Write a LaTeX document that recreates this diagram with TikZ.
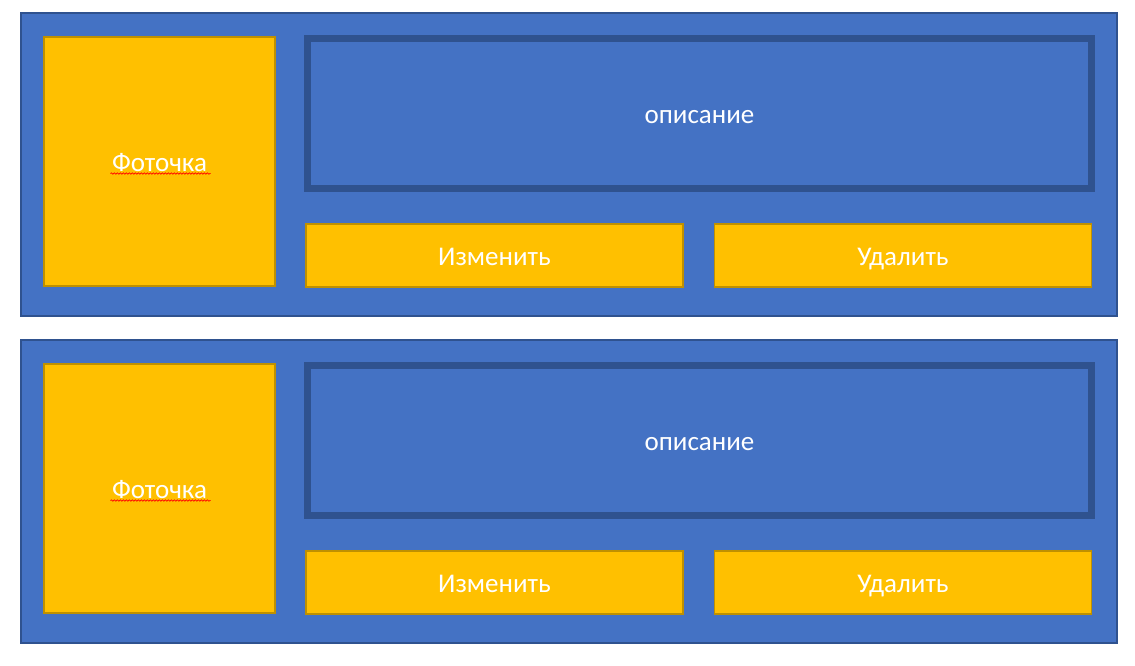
\documentclass[tikz,border=0pt]{standalone}
\usepackage{fontspec}
\setmainfont{Carlito}
\usepackage{tikz}
\usetikzlibrary{positioning, calc, decorations.pathmorphing}
\definecolor{cardblue}{HTML}{4472C4}
\definecolor{darkblue}{HTML}{2F528F}
\definecolor{photoyellow}{HTML}{FFC000}
\definecolor{darkyellow}{HTML}{BF9000}

\begin{document}
\begin{tikzpicture}[
		x=1pt, y=-1pt,
		card/.style={rectangle, draw=darkblue, fill=cardblue, line width=1.5pt, minimum width=1096pt, minimum height=303pt, anchor=north west},
		photobox/.style={rectangle, draw=darkyellow, fill=photoyellow, line width=1.5pt, minimum width=231pt, minimum height=249pt, text=white},
		descbox/.style={rectangle, draw=darkblue, fill=cardblue, line width=7pt, minimum width=784pt, minimum height=150pt, text=white},
		button/.style={rectangle, draw=darkyellow, fill=photoyellow, line width=1.5pt, minimum width=377pt, minimum height=63pt, text=white},
		spell/.style={red, line width=0.7pt, decorate, decoration={snake, amplitude=0.7pt, segment length=3pt}},
		every node/.style={font=\fontsize{27}{32}\selectfont, text height=20pt, text depth=0pt},
	]
		\useasboundingbox (0,0) rectangle (1135,665);

		%First card
		\node (card1) [card] at (20,12) {};
		\node (photo1) [photobox] at (159.5,161.5) {Фоточка};
		\node (desc1) [descbox] at (699.5,113.5) {описание};
		\node (edit1) [button] at (494.5,255.5) {Изменить};
		\node (delete1) [button, right=30pt of edit1] {Удалить};

		%Second card
		\node (card2) [card] at (20,339) {};
		\node (photo2) [photobox] at (159.5,488.5) {Фоточка};
		\node (desc2) [descbox] at (699.5,440.5) {описание};
		\node (edit2) [button] at (494.5,582.5) {Изменить};
		\node (delete2) [button, right=30pt of edit2] {Удалить};

		%Spell check lines
		\draw[spell] ($(photo1.center) + (-49,12)$) -- ($(photo1.center) + (51,12)$);
		\draw[spell] ($(photo2.center) + (-49,12)$) -- ($(photo2.center) + (51,12)$);
	\end{tikzpicture}
\end{document}
